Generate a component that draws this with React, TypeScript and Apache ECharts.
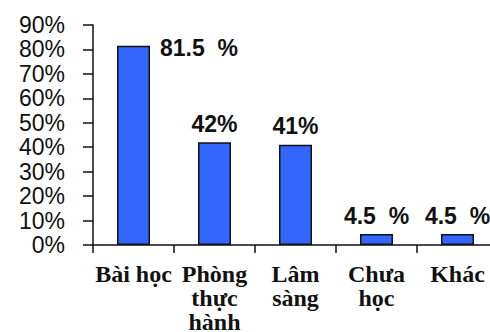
import React, { useEffect, useRef } from "react";
import * as echarts from "echarts";

const categories = ["Bài học", "Phòng\nthực\nhành", "Lâm\nsàng", "Chưa\nhọc", "Khác"];
const values = [81.5, 42, 41, 4.5, 4.5];
const yTicks = { min: 0, max: 90, interval: 10 };

const BAR_BLUE = "#3366ff";
const INK = "#111111";

export default function App() {
  const ref = useRef<HTMLDivElement>(null);

  useEffect(() => {
    if (!ref.current) return;
    const chart = echarts.init(ref.current, null, { renderer: "svg" });

    const valueText = (v: number) => (Number.isInteger(v) ? `${v}%` : `${v}  %`);

    const data = values.map((v, i) => {
      const item: any = { value: v };
      if (i === 0) {
        // first value label sits beside the bar's top edge
        item.label = { position: [43, 2], align: "left", verticalAlign: "middle" };
      }
      return item;
    });

    chart.setOption({
      animation: false,
      backgroundColor: "#ffffff",
      grid: {
        left: 93,
        top: 25,
        bottom: 87,
        right: -8,
        containLabel: false,
        outerBoundsMode: "none",
      },
      xAxis: {
        type: "category",
        data: categories,
        boundaryGap: true,
        axisLine: { show: true, lineStyle: { color: INK, width: 1.5 } },
        axisTick: { show: true, length: 8, lineStyle: { color: INK, width: 1.5 } },
        axisLabel: {
          interval: 0,
          margin: 17,
          color: INK,
          fontFamily: "Liberation Serif",
          fontWeight: "bold",
          fontSize: 24,
          lineHeight: 24,
        },
        splitLine: { show: false },
      },
      yAxis: {
        type: "value",
        min: yTicks.min,
        max: yTicks.max,
        interval: yTicks.interval,
        axisLine: { show: true, lineStyle: { color: INK, width: 1.5 } },
        axisTick: { show: true, length: 10, lineStyle: { color: INK, width: 1.5 } },
        axisLabel: {
          formatter: "{value}%",
          margin: 28,
          color: INK,
          fontFamily: "Liberation Sans",
          fontSize: 23,
          lineHeight: 20,
        },
        splitLine: { show: false },
      },
      series: [
        {
          type: "bar",
          data,
          barWidth: 33,
          itemStyle: { color: BAR_BLUE, borderColor: INK, borderWidth: 1.5 },
          label: {
            show: true,
            position: "top",
            distance: 7,
            formatter: (p: any) => valueText(p.value),
            color: INK,
            fontFamily: "Liberation Sans",
            fontWeight: "bold",
            fontSize: 23,
          },
        },
      ],
    });

    return () => chart.dispose();
  }, []);

  return (
    <div
      ref={ref}
      style={{ position: "fixed", left: 0, top: 0, width: 490, height: 332, background: "#fff" }}
    />
  );
}
